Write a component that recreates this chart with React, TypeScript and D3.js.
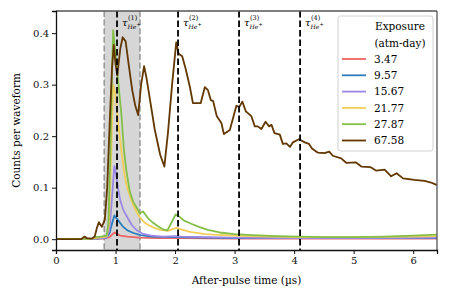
import React, { useEffect, useRef } from 'react';
import * as d3 from 'd3';

// [time (us), counts per waveform]
const red: [number, number][] = [
    [0, 0], [0.8, 0.001], [0.9, 0.004], [0.95, 0.01], [0.99, 0.013], [1.03, 0.01], [1.08, 0.007],
    [1.2, 0.005], [1.4, 0.003], [1.7, 0.002], [2.1, 0.002], [3.0, 0.001], [6.4, 0.001],
];
const blue: [number, number][] = [
    [0, 0], [0.7, 0.001], [0.85, 0.003], [0.9, 0.012], [0.94, 0.03], [0.98, 0.046], [1.02, 0.04],
    [1.06, 0.034], [1.12, 0.025], [1.2, 0.017], [1.3, 0.012], [1.42, 0.008], [1.6, 0.005],
    [2.0, 0.004], [3.0, 0.002], [4.0, 0.002], [6.4, 0.002],
];
const purple: [number, number][] = [
    [0, 0], [0.65, 0.001], [0.85, 0.003], [0.9, 0.02], [0.94, 0.08], [0.98, 0.142], [1.01, 0.125],
    [1.04, 0.1], [1.08, 0.075], [1.13, 0.057], [1.2, 0.042], [1.27, 0.028], [1.35, 0.018],
    [1.45, 0.011], [1.6, 0.007], [1.8, 0.005], [2.0, 0.006], [2.1, 0.005], [2.5, 0.004],
    [3.0, 0.003], [4.0, 0.002], [5.0, 0.002], [6.4, 0.003],
];
const yellow: [number, number][] = [
    [0, 0], [0.6, 0.001], [0.7, 0.003], [0.85, 0.005], [0.89, 0.03], [0.93, 0.18], [0.96, 0.3],
    [1.0, 0.28], [1.05, 0.22], [1.1, 0.17], [1.15, 0.125], [1.2, 0.098], [1.27, 0.075],
    [1.33, 0.058], [1.4, 0.044], [1.48, 0.033], [1.56, 0.027], [1.65, 0.022], [1.75, 0.018],
    [1.88, 0.016], [1.95, 0.019], [2.02, 0.022], [2.1, 0.019], [2.25, 0.014], [2.5, 0.01],
    [2.8, 0.008], [3.2, 0.006], [4.0, 0.004], [5.0, 0.004], [6.0, 0.005], [6.4, 0.006],
];
const green: [number, number][] = [
    [0, 0], [0.6, 0.001], [0.65, 0.004], [0.75, 0.005], [0.85, 0.007], [0.88, 0.03], [0.91, 0.15],
    [0.94, 0.32], [0.96, 0.406], [1.0, 0.36], [1.05, 0.3], [1.1, 0.24], [1.14, 0.175],
    [1.18, 0.135], [1.24, 0.092], [1.3, 0.072], [1.35, 0.062], [1.41, 0.05], [1.46, 0.054],
    [1.5, 0.048], [1.55, 0.04], [1.62, 0.033], [1.7, 0.026], [1.8, 0.019], [1.87, 0.017],
    [1.93, 0.03], [2.01, 0.048], [2.08, 0.043], [2.15, 0.036], [2.25, 0.031], [2.4, 0.024],
    [2.55, 0.018], [2.75, 0.013], [3.0, 0.01], [3.3, 0.008], [3.7, 0.006], [4.1, 0.005],
    [4.5, 0.004], [5.0, 0.004], [5.5, 0.005], [6.0, 0.007], [6.4, 0.009],
];
const brown: [number, number][] = [
    [0, 0], [0.42, 0], [0.475, 0.005], [0.52, 0.002], [0.6, 0.001], [0.65, 0.005], [0.69, 0.023],
    [0.72, 0.033], [0.77, 0.024], [0.82, 0.038], [0.86, 0.1], [0.9, 0.22], [0.94, 0.33],
    [0.97, 0.377], [1.0, 0.34], [1.03, 0.318], [1.08, 0.37], [1.12, 0.392], [1.17, 0.384],
    [1.22, 0.34], [1.28, 0.29], [1.33, 0.26], [1.38, 0.241], [1.43, 0.3], [1.48, 0.336],
    [1.52, 0.313], [1.58, 0.27], [1.66, 0.212], [1.75, 0.164], [1.82, 0.141], [1.88, 0.206],
    [1.95, 0.3], [2.02, 0.382], [2.06, 0.36], [2.12, 0.355], [2.18, 0.33], [2.25, 0.295],
    [2.3, 0.264], [2.43, 0.264], [2.5, 0.295], [2.55, 0.29], [2.6, 0.27], [2.64, 0.268],
    [2.7, 0.239], [2.78, 0.225], [2.82, 0.204], [2.92, 0.212], [3.03, 0.259], [3.08, 0.257],
    [3.13, 0.267], [3.19, 0.248], [3.28, 0.239], [3.34, 0.219], [3.39, 0.219], [3.45, 0.214],
    [3.52, 0.228], [3.58, 0.219], [3.62, 0.222], [3.67, 0.206], [3.76, 0.203], [3.81, 0.185],
    [3.87, 0.186], [3.93, 0.179], [3.98, 0.188], [4.08, 0.194], [4.18, 0.188], [4.25, 0.185],
    [4.3, 0.176], [4.4, 0.168], [4.51, 0.167], [4.59, 0.17], [4.65, 0.162], [4.79, 0.157],
    [4.88, 0.148], [5.04, 0.149], [5.13, 0.141], [5.28, 0.14], [5.38, 0.133], [5.52, 0.135],
    [5.63, 0.122], [5.72, 0.128], [5.83, 0.118], [6.02, 0.115], [6.19, 0.113], [6.3, 0.11],
    [6.4, 0.105],
];

const exposures = ['3.47', '9.57', '15.67', '21.77', '27.87', '67.58'];
const colors = ['#ee6363', '#2b7dbc', '#9b88e6', '#f2cd57', '#84bf48', '#623700'];
const series = [red, blue, purple, yellow, green, brown];

// characteristic He+ after-pulse times and the shaded window
const tauTimes = [1.025, 2.05, 3.075, 4.1];
const tauLabels = ['(1)', '(2)', '(3)', '(4)'];
const windowRange = [0.81, 1.41];

const xTicks = [0, 1, 2, 3, 4, 5, 6];
const yTicks = [0, 0.1, 0.2, 0.3, 0.4];

const App: React.FC = () => {
    const svgRef = useRef<SVGSVGElement | null>(null);

    useEffect(() => {
        if (!svgRef.current) return;
        const svg = d3.select(svgRef.current);
        svg.selectAll('*').remove();

        const font = 'DejaVu Serif';
        const margin = { left: 56, right: 13, top: 11, bottom: 50 };
        const W = 450, H = 300;

        const x = d3.scaleLinear().domain([0, 6.4]).range([margin.left, W - margin.right]);
        const y = d3.scaleLinear().domain([-0.021, 0.443]).range([H - margin.bottom, margin.top]);

        const clipId = 'plotClip';
        svg.append('defs').append('clipPath').attr('id', clipId)
            .append('rect')
            .attr('x', margin.left).attr('y', margin.top)
            .attr('width', W - margin.left - margin.right)
            .attr('height', H - margin.top - margin.bottom);

        const plot = svg.append('g').attr('clip-path', `url(#${clipId})`);

        // shaded window
        plot.append('rect')
            .attr('x', x(windowRange[0]))
            .attr('y', margin.top)
            .attr('width', x(windowRange[1]) - x(windowRange[0]))
            .attr('height', H - margin.top - margin.bottom)
            .style('fill', '#d6d6d6');
        plot.selectAll('line.win')
            .data(windowRange)
            .enter()
            .append('line')
            .attr('class', 'win')
            .attr('x1', (d) => x(d)).attr('x2', (d) => x(d))
            .attr('y1', margin.top).attr('y2', H - margin.bottom)
            .style('stroke', '#9a9a9a')
            .style('stroke-width', 1.6)
            .style('stroke-dasharray', '6,2.6');

        const line = d3.line<[number, number]>()
            .x((d) => x(d[0]))
            .y((d) => y(d[1]));

        series.forEach((s, i) => {
            plot.append('path')
                .datum(s)
                .attr('d', line)
                .style('fill', 'none')
                .style('stroke', colors[i])
                .style('stroke-width', 1.8)
                .style('stroke-linejoin', 'round');
        });

        // tau lines
        plot.selectAll('line.tau')
            .data(tauTimes)
            .enter()
            .append('line')
            .attr('class', 'tau')
            .attr('x1', (d) => x(d)).attr('x2', (d) => x(d))
            .attr('y1', margin.top).attr('y2', H - margin.bottom)
            .style('stroke', 'black')
            .style('stroke-width', 1.8)
            .style('stroke-dasharray', '6.5,3');

        // tau labels
        tauTimes.forEach((t, i) => {
            const x0 = x(t) + 5;
            const g = svg.append('g').style('font-family', font);
            g.append('text').attr('x', x0).attr('y', 26).style('font-size', '10px').style('font-style', 'italic').text('τ');
            g.append('text').attr('x', x0 + 6).attr('y', 20).style('font-size', '6.5px').text(tauLabels[i]);
            g.append('text').attr('x', x0 + 5.5).attr('y', 29).style('font-size', '6px').style('font-style', 'italic').text('He');
            g.append('text').attr('x', x0 + 14.5).attr('y', 25.5).style('font-size', '5px').text('+');
        });

        // axes frame
        const frame = svg.append('g');
        frame.append('line').attr('x1', margin.left).attr('x2', W - margin.right)
            .attr('y1', margin.top).attr('y2', margin.top).style('stroke', '#555').style('stroke-width', 1.3);
        frame.append('line').attr('x1', W - margin.right).attr('x2', W - margin.right)
            .attr('y1', margin.top).attr('y2', H - margin.bottom).style('stroke', '#555').style('stroke-width', 1.3);

        const xAxis = d3.axisBottom(x).tickValues(xTicks).tickFormat(d3.format('d')).tickSizeOuter(0).tickSize(4).tickPadding(3);
        const yAxis = d3.axisLeft(y).tickValues(yTicks).tickFormat(d3.format('.1f')).tickSizeOuter(0).tickSize(4).tickPadding(3);

        const gx = svg.append('g')
            .attr('transform', `translate(0, ${H - margin.bottom})`)
            .call(xAxis);
        const gy = svg.append('g')
            .attr('transform', `translate(${margin.left}, 0)`)
            .call(yAxis);
        [gx, gy].forEach((g) => {
            g.selectAll('text').style('font-family', font).style('font-size', '10px').style('fill', '#111');
            g.selectAll('line').style('stroke', '#111').style('stroke-width', 1);
            g.select('.domain').style('stroke', '#111').style('stroke-width', 1.3);
        });

        svg.append('text')
            .attr('x', (margin.left + W - margin.right) / 2)
            .attr('y', 284)
            .attr('text-anchor', 'middle')
            .style('font-family', font)
            .style('font-size', '10.5px')
            .text('After-pulse time (µs)');

        svg.append('text')
            .attr('transform', `translate(20, ${(margin.top + H - margin.bottom) / 2}) rotate(-90)`)
            .attr('text-anchor', 'middle')
            .style('font-family', font)
            .style('font-size', '10.5px')
            .text('Counts per waveform');

        // legend
        const lg = svg.append('g').style('font-family', font);
        lg.append('rect')
            .attr('x', 338).attr('y', 16)
            .attr('width', 95).attr('height', 135)
            .attr('rx', 2.5)
            .style('fill', 'white').style('fill-opacity', 0.85)
            .style('stroke', '#d0d0d0').style('stroke-width', 1);
        lg.append('text').attr('x', 400).attr('y', 30).attr('text-anchor', 'middle').style('font-size', '10.5px').text('Exposure');
        lg.append('text').attr('x', 400).attr('y', 47).attr('text-anchor', 'middle').style('font-size', '10.5px').text('(atm-day)');
        exposures.forEach((e, i) => {
            const cy = 59 + i * 16.3;
            lg.append('line')
                .attr('x1', 342).attr('x2', 366)
                .attr('y1', cy).attr('y2', cy)
                .style('stroke', colors[i]).style('stroke-width', 1.8);
            lg.append('text').attr('x', 374).attr('y', cy + 3.8).style('font-size', '10.5px').text(e);
        });
    }, []);

    return (
        <svg ref={svgRef} width={450} height={300} style={{ position: 'absolute', left: 0, top: 0, background: 'white' }} />
    );
};

export default App;
